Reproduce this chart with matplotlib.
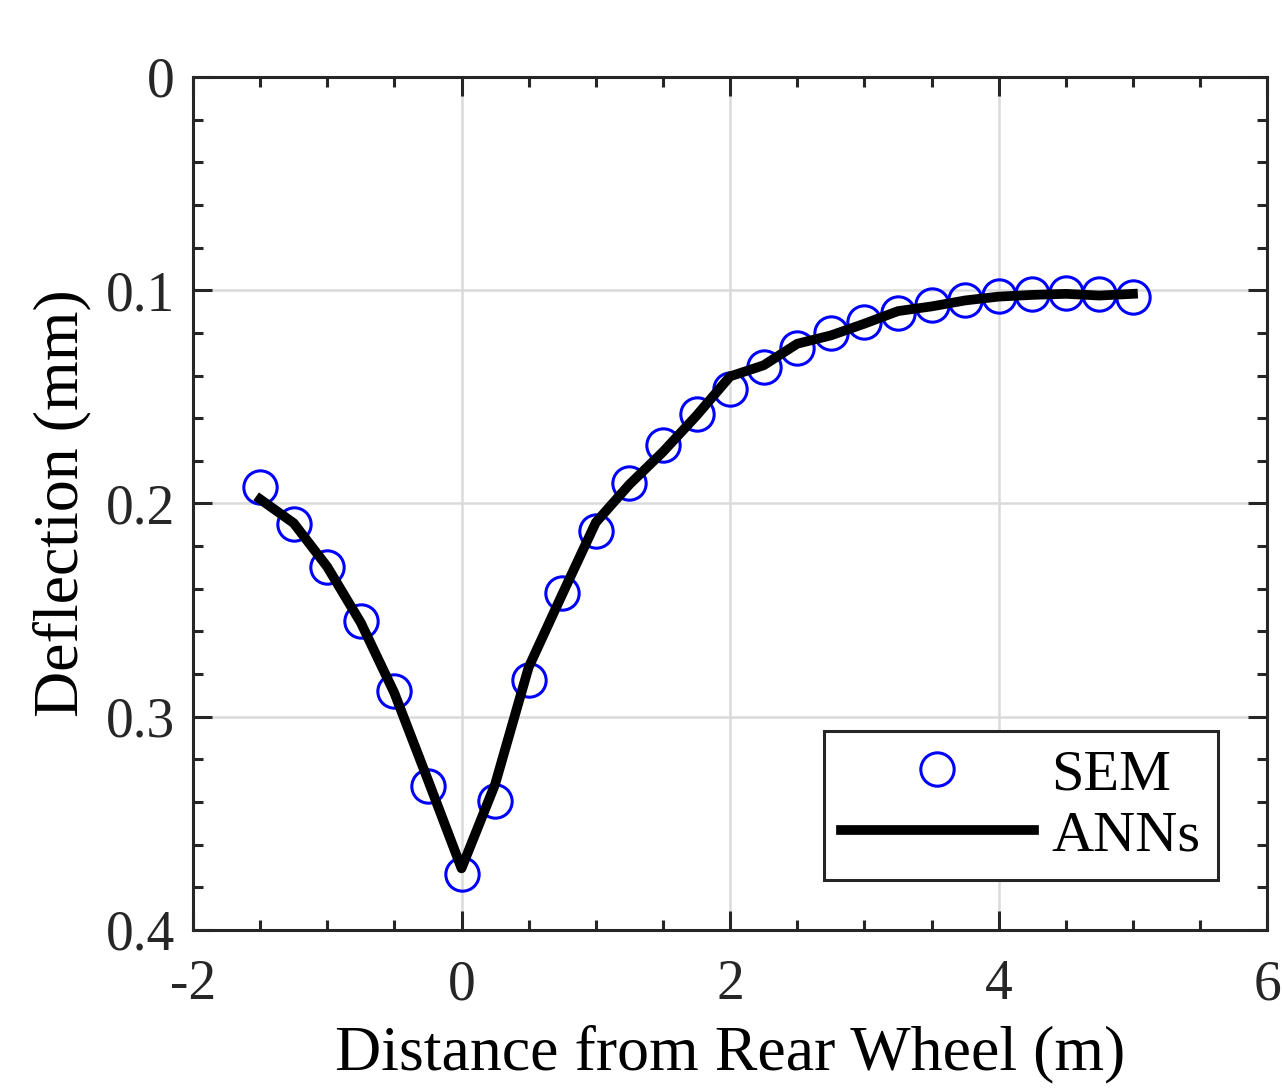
import matplotlib.pyplot as plt
import numpy as np

# Datos
dist = [-1.5, -1.25, -1.0, -0.75, -0.5, -0.25, 0.0, 0.25, 0.5, 0.75, 1.0,
        1.25, 1.5, 1.75, 2.0, 2.25, 2.5, 2.75, 3.0, 3.25, 3.5, 3.75, 4.0,
        4.25, 4.5, 4.75, 5.0]
sem = [0.1924, 0.2096, 0.2299, 0.2549, 0.2878, 0.3324, 0.3739, 0.3395,
       0.2829, 0.2418, 0.2127, 0.1906, 0.1725, 0.1580, 0.1462, 0.1358,
       0.1272, 0.1202, 0.1147, 0.1105, 0.1069, 0.1045, 0.1026, 0.1017,
       0.1014, 0.1019, 0.1030]
ann = [0.1980, 0.2092, 0.2297, 0.2559, 0.2889, 0.3297, 0.3711, 0.3317,
       0.2768, 0.2426, 0.2089, 0.1911, 0.1758, 0.1588, 0.1404, 0.1352,
       0.1251, 0.1212, 0.1157, 0.1098, 0.1076, 0.1048, 0.1030, 0.1022,
       0.1017, 0.1025, 0.1017]

xticks = [-2, 0, 2, 4, 6]
yticks = [0, 0.1, 0.2, 0.3, 0.4]
ytick_labels = ['0', '0.1', '0.2', '0.3', '0.4']

plt.rcParams['font.family'] = ['Liberation Serif', 'DejaVu Serif']
fs = 40

fig = plt.figure(figsize=(12.82, 10.9), dpi=100)
ax = fig.add_axes([0.1505, 0.1468, 0.838, 0.7826])

ax.plot(dist, sem, 'o', mfc='none', mec='blue', ms=24, mew=2.2, label='SEM', zorder=3)
ax.plot(dist, ann, '-', c='black', lw=7, label='ANNs', zorder=4)

ax.set_xlim(-2, 6)
ax.set_ylim(0.4, 0)
ax.set_xticks(xticks)
ax.set_xticklabels(['-2', '0', '2', '4', '6'])
ax.set_yticks(yticks)
ax.set_yticklabels(ytick_labels)
ax.set_xticks(np.arange(-2, 6.01, 0.5), minor=True)
ax.set_yticks(np.arange(0, 0.401, 0.02), minor=True)

ax.grid(True, which='major', color='#dadada', lw=1.8)
ax.set_axisbelow(True)
for s in ax.spines.values():
    s.set_color('#262626')
    s.set_linewidth(2.2)
ax.tick_params(which='both', direction='in', top=True, right=True,
               colors='#262626', labelsize=fs, width=2.2)
ax.tick_params(which='major', length=14)
ax.tick_params(axis='x', which='major', pad=21)
ax.tick_params(axis='y', which='major', pad=13)
ax.tick_params(which='minor', length=7)

ax.set_xlabel('Distance from Rear Wheel (m)', fontsize=46, color='black', labelpad=10)
ax.set_ylabel('Deflection (mm)', fontsize=46, color='black', labelpad=10)

leg = ax.legend(loc='lower right', fontsize=42, fancybox=False, edgecolor='#262626',
                framealpha=1, handlelength=3.3, handletextpad=0.3,
                borderaxespad=0.85, labelspacing=0.15, borderpad=0.3)
leg.get_frame().set_linewidth(2.2)

plt.savefig('out.png', dpi=100)
